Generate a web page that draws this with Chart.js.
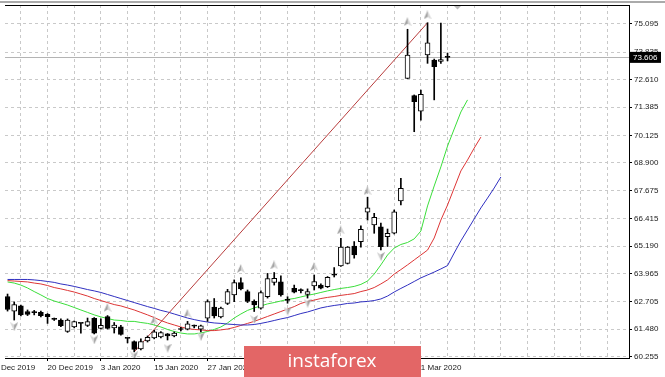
<!DOCTYPE html>
<html>
<head>
<meta charset="utf-8">
<script src="https://cdn.jsdelivr.net/npm/chart.js@4.4.1/dist/chart.umd.min.js"></script>
<style>
  html, body { margin: 0; padding: 0; background: #fff; }
  #wrap { position: relative; width: 665px; height: 377px; }
</style>
</head>
<body>
<div id="wrap"><canvas id="c" width="665" height="377"></canvas></div>
<script>
"use strict";

// Daily candles, Alligator (jaw/teeth/lips) and fractals, MT4 look.
// x = bar index, y = price.

// ---------- data ----------
const opens = [62.94,62.29,62.52,62.27,62.23,62.23,62.14,61.94,61.89,61.38,
  61.58,61.75,61.65,61.97,61.52,62.04,61.54,61.59,61.08,60.93,
  60.60,60.96,61.09,61.14,61.27,61.18,61.48,61.48,61.63,61.48,
  61.97,62.47,62.03,62.63,63.01,63.56,63.16,62.72,62.42,62.93,
  63.57,63.59,62.79,63.31,63.21,63.03,63.41,63.45,63.38,63.90,
  64.30,64.42,65.19,65.39,66.70,66.13,66.05,65.61,65.76,67.20,
  72.67,71.90,71.21,73.71,73.49,73.42,73.62];
const highs = [63.05,62.70,62.56,62.34,62.32,62.29,62.18,61.98,61.94,61.94,
  61.85,61.76,61.98,62.00,61.94,62.09,61.78,61.65,61.09,60.96,
  61.05,61.18,61.43,61.38,61.29,61.36,61.56,61.83,61.67,61.67,
  62.79,62.85,62.47,63.26,63.68,63.77,63.23,62.79,63.19,63.97,
  64.01,63.86,62.93,63.45,63.28,63.28,63.90,63.50,63.83,64.23,
  65.53,65.17,65.39,66.09,67.37,66.65,66.21,65.95,66.80,68.21,
  74.86,71.93,72.15,75.15,73.53,75.13,73.80];
const lows = [62.29,61.89,62.07,62.09,62.12,62.03,61.74,61.87,61.60,61.34,
  61.54,61.31,61.60,61.27,61.49,61.49,61.31,61.22,60.87,60.47,
  60.56,60.91,61.05,61.09,61.00,61.14,61.40,61.45,61.54,61.36,
  61.83,61.98,61.98,62.58,62.71,63.23,62.67,62.27,62.38,62.87,
  63.45,62.96,62.64,63.10,63.10,62.87,63.23,63.28,63.34,63.81,
  64.28,64.39,64.65,65.14,66.35,65.76,65.02,65.17,65.73,67.02,
  72.66,70.29,70.81,73.34,71.71,73.34,73.45];
const closes = [62.36,62.58,62.12,62.14,62.22,62.09,62.04,61.92,61.64,61.89,
  61.82,61.74,61.82,61.31,61.65,61.52,61.67,61.25,61.07,60.58,
  60.93,61.12,61.36,61.33,61.18,61.31,61.47,61.72,61.62,61.63,
  62.71,62.07,62.42,63.16,63.56,63.28,62.72,62.56,63.11,63.74,
  63.75,63.01,62.77,63.13,63.20,63.16,63.61,63.31,63.80,63.89,
  65.14,65.14,64.79,65.94,66.90,66.47,65.16,65.76,66.72,67.77,
  73.71,71.63,71.96,74.26,73.19,73.51,73.606];

// Alligator lines (already shifted forward, so they run past the last bar)
const lips = [63.59,63.54,63.45,63.32,63.16,63.01,62.85,62.74,62.65,62.56,
  62.45,62.34,62.23,62.12,62.03,61.96,61.89,61.87,61.83,61.83,
  61.78,61.74,61.67,61.58,61.47,61.38,61.31,61.27,61.27,61.31,
  61.38,61.47,61.58,61.76,61.98,62.16,62.32,62.43,62.52,62.61,
  62.67,62.74,62.81,62.85,62.92,62.99,63.05,63.12,63.19,63.25,
  63.30,63.34,63.39,63.48,63.63,63.94,64.35,64.79,65.10,65.26,
  65.35,65.51,65.86,66.98,67.87,68.72,69.65,70.41,71.17,71.71];
const teeth = [63.65,63.63,63.61,63.59,63.54,63.50,63.43,63.34,63.28,63.21,
  63.14,63.05,62.96,62.85,62.76,62.67,62.58,62.52,62.43,62.34,
  62.23,62.12,62.00,61.87,61.76,61.67,61.58,61.51,61.47,61.45,
  61.42,61.42,61.45,61.49,61.56,61.65,61.74,61.83,61.94,62.05,
  62.16,62.27,62.38,62.49,62.63,62.72,62.78,62.85,62.90,62.94,
  62.99,63.03,63.07,63.16,63.23,63.34,63.50,63.68,63.94,64.14,
  64.35,64.57,64.79,65.01,65.55,66.35,67.02,67.78,68.54,69.03,
  69.56,70.05];
const jaw = [63.70,63.70,63.70,63.70,63.68,63.65,63.61,63.57,63.50,63.45,
  63.39,63.32,63.25,63.19,63.12,63.03,62.94,62.85,62.76,62.67,
  62.58,62.49,62.41,62.32,62.25,62.16,62.07,61.98,61.91,61.85,
  61.80,61.76,61.74,61.71,61.69,61.67,61.67,61.69,61.74,61.80,
  61.87,61.94,62.00,62.09,62.18,62.25,62.34,62.43,62.49,62.54,
  62.58,62.63,62.65,62.70,62.72,62.76,62.83,62.96,63.14,63.30,
  63.45,63.61,63.77,63.90,64.03,64.17,64.32,64.88,65.42,65.91,
  66.40,66.89,67.33,67.78,68.27];

// Fractal arrows (bar index, price where the arrow sits)
const fractUpIdx = [15, 22, 27, 35, 40, 46, 50, 54, 60, 63];
const fractUpVal = [62.45, 61.89, 62.19, 64.19, 64.35, 64.28, 65.91, 67.66, 75.20, 75.50];
const fractDnIdx = [1, 13, 19, 24, 29, 37, 42, 45, 56];
const fractDnVal = [61.59, 61.00, 60.29, 60.63, 61.15, 61.91, 62.29, 62.64, 64.72];

// Trend line from the January low to the March high
const trendIdx = [19, 63];
const trendVal = [60.47, 75.15];

const priceTicks = [60.255, 61.480, 62.705, 63.965, 65.190, 66.415, 67.675,
  68.900, 70.125, 71.385, 72.610, 73.835, 75.095];
const dateIdx = [-2, 6, 14, 22, 30, 38, 46, 54, 62];
const dateLabels = ["9 Dec 2019", "20 Dec 2019", "3 Jan 2020", "15 Jan 2020", "27 Jan 2020",
  "6 Feb 2020", "18 Feb 2020", "28 Feb 2020", "1 Mar 2020"];
const lastPrice = 73.606;

// ---------- helpers ----------
const pts = (arr) => arr.map((v, i) => ({ x: i, y: v }));
const pairs = (idx, vals) => idx.map((x, k) => ({ x, y: vals[k] }));

function arrowImg() {
  const c = document.createElement("canvas");
  c.width = 8; c.height = 9;
  const g = c.getContext("2d");
  g.fillStyle = "#a2a2a2";
  g.beginPath(); g.moveTo(4, 0); g.lineTo(4, 6.5); g.lineTo(0, 9); g.closePath(); g.fill();
  g.fillStyle = "#d4d4d4";
  g.beginPath(); g.moveTo(4, 0); g.lineTo(8, 9); g.lineTo(4, 6.5); g.closePath(); g.fill();
  return c;
}
const ARROW = arrowImg();

// ---------- decorations: bid line, frame, price tag, watermark ----------
const mtDecor = {
  id: "mtDecor",
  beforeDatasetsDraw(chart) {
    const { ctx, chartArea: a, scales: { y } } = chart;
    const py = Math.round(y.getPixelForValue(lastPrice)) + 0.5;
    ctx.save();
    ctx.strokeStyle = "#b4b4b4"; ctx.lineWidth = 1;
    ctx.beginPath(); ctx.moveTo(a.left, py); ctx.lineTo(a.right, py); ctx.stroke();
    ctx.restore();
  },
  afterDraw(chart) {
    const { ctx, chartArea: a, scales: { y } } = chart;
    ctx.save();
    // top strip + frame top
    ctx.fillStyle = "#aaaaaa"; ctx.fillRect(0, 1, chart.width, 2);
    ctx.strokeStyle = "#000"; ctx.lineWidth = 1;
    ctx.beginPath(); ctx.moveTo(a.left, a.top + 0.5); ctx.lineTo(a.right, a.top + 0.5); ctx.stroke();
    // chart-shift marker
    ctx.fillStyle = "#bdbdbd";
    ctx.beginPath(); ctx.moveTo(454, a.top + 1); ctx.lineTo(461, a.top + 1); ctx.lineTo(457.5, a.top + 4.5); ctx.closePath(); ctx.fill();
    // last price tag
    const py = y.getPixelForValue(lastPrice);
    ctx.fillStyle = "#000"; ctx.fillRect(a.right + 1, py - 5.5, 31, 11);
    ctx.fillStyle = "#fff"; ctx.font = "8px 'Liberation Sans', Arial, sans-serif";
    ctx.textAlign = "left"; ctx.textBaseline = "middle";
    ctx.fillText(lastPrice.toFixed(3), a.right + 4, py + 0.5);
    // watermark
    ctx.fillStyle = "#e36666"; ctx.fillRect(244, 346, 177, 31);
    ctx.fillStyle = "#fff"; ctx.font = "19px 'Open Sans', sans-serif";
    ctx.textAlign = "center"; ctx.textBaseline = "alphabetic";
    ctx.fillText("instaforex", 332, 367);
    ctx.restore();
  }
};

// ---------- chart ----------
Chart.defaults.font.family = "'Liberation Sans', Arial, sans-serif";
Chart.defaults.font.size = 8;
Chart.defaults.color = "#1a1a1a";

const GRID = "#c9c9c9";

new Chart(document.getElementById("c"), {
  type: "bar",
  data: {
    datasets: [
      { type: "line", data: pts(jaw), borderColor: "#2f2fc0", borderWidth: 1, pointRadius: 0, tension: 0, order: 6 },
      { type: "line", data: pts(teeth), borderColor: "#dd3535", borderWidth: 1, pointRadius: 0, tension: 0, order: 6 },
      { type: "line", data: pts(lips), borderColor: "#3ade3a", borderWidth: 1, pointRadius: 0, tension: 0, order: 6 },
      { type: "line", data: pairs(trendIdx, trendVal), borderColor: "#b83c3c", borderWidth: 1, pointRadius: 0, order: 5 },
      { // wicks
        data: highs.map((h, i) => ({ x: i, y: [lows[i], h] })),
        backgroundColor: "#000", barThickness: 1, grouped: false, order: 4
      },
      { // bodies
        data: opens.map((o, i) => ({ x: i, y: [o, closes[i]] })),
        backgroundColor: opens.map((o, i) => closes[i] >= o ? "#fff" : "#000"),
        borderColor: "#000", borderWidth: 1, borderSkipped: false,
        barThickness: 5, minBarLength: 1, grouped: false, order: 3
      },
      { type: "line", data: pairs(fractUpIdx, fractUpVal), showLine: false,
        pointStyle: ARROW, pointRadius: 4, order: 1 },
      { type: "line", data: pairs(fractDnIdx, fractDnVal), showLine: false,
        pointStyle: ARROW, pointRadius: 4, rotation: 180, order: 1 }
    ]
  },
  options: {
    responsive: false,
    animation: false,
    devicePixelRatio: 1,
    layout: { padding: { top: 5, left: 0, right: 0, bottom: 0 } },
    plugins: { legend: { display: false }, tooltip: { enabled: false } },
    scales: {
      x: {
        type: "linear", position: "bottom", offset: false,
        min: -0.381, max: 93.22,
        afterBuildTicks: (s) => {
          const t = [];
          for (let v = -2; v <= 90; v += 4) t.push({ value: v });
          s.ticks = t;
        },
        afterFit: (s) => { s.height = 19; s.paddingLeft = 0; s.paddingRight = 0; },
        ticks: {
          autoSkip: false, maxRotation: 0, minRotation: 0, align: "start", padding: 2,
          callback: (v) => { const k = dateIdx.indexOf(v); return k < 0 ? "" : dateLabels[k]; }
        },
        grid: {
          offset: false, color: GRID, lineWidth: 1, tickLength: 3,
          tickColor: (c) => (c.tick && dateIdx.includes(c.tick.value)) ? "#000" : "rgba(0,0,0,0)"
        },
        border: { display: true, color: "#000", dash: [3, 3] }
      },
      y: {
        type: "linear", position: "right",
        min: 60.197, max: 75.942,
        afterBuildTicks: (s) => { s.ticks = priceTicks.map(v => ({ value: v })); },
        afterFit: (s) => { s.width = 36; s.paddingTop = 0; s.paddingBottom = 0; },
        ticks: { padding: 2, callback: (v) => v.toFixed(3) },
        grid: { color: GRID, lineWidth: 1, tickLength: 3, tickColor: "#000" },
        border: { display: true, color: "#000", dash: [3, 3] }
      }
    }
  },
  plugins: [mtDecor]
});
</script>
</body>
</html>
